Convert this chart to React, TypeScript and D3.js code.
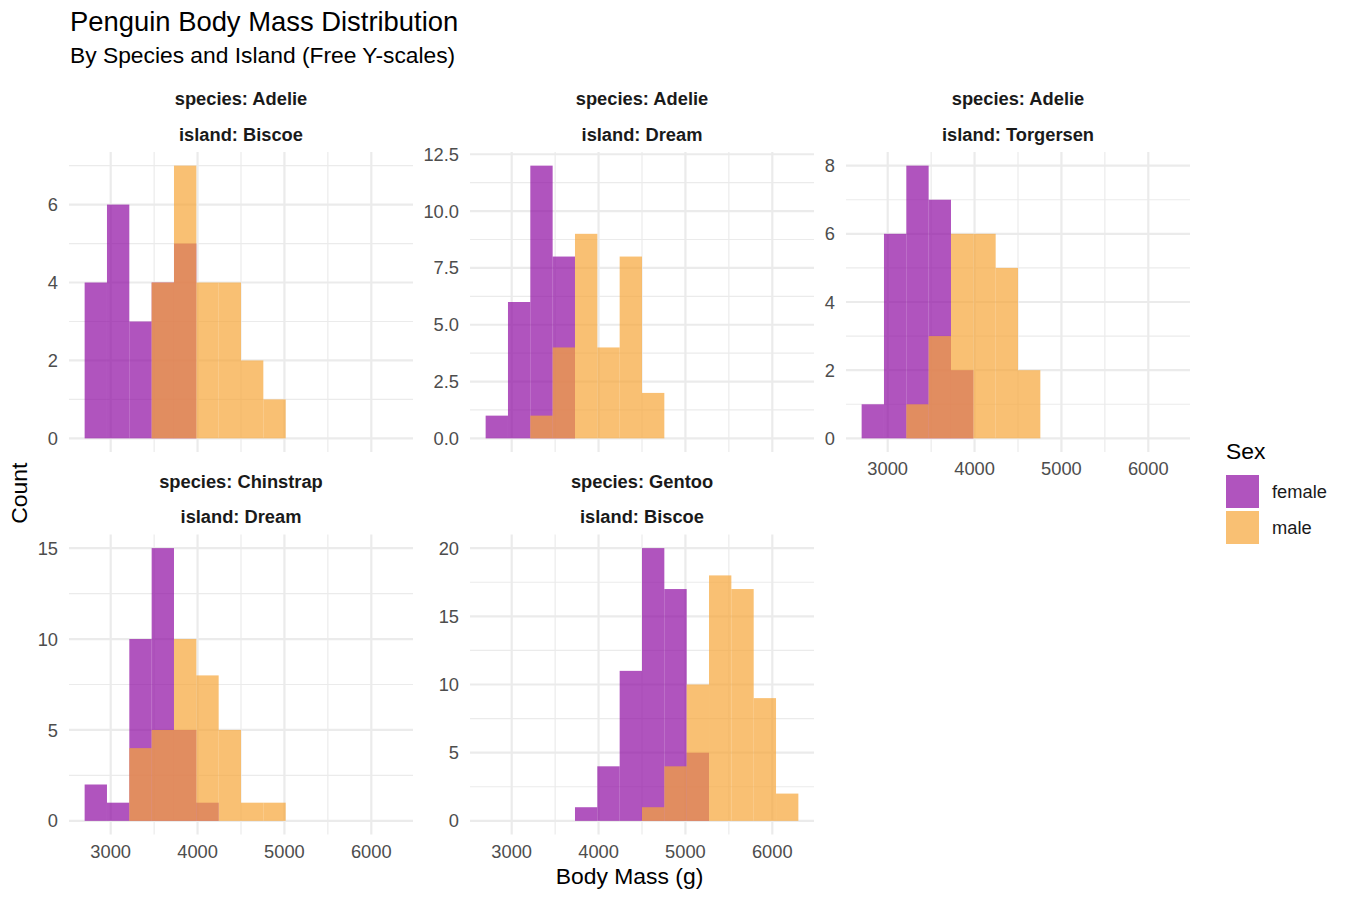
import { useRef, useEffect } from "react";
import * as d3 from "d3";

// bin edges of the histogram (14 bins between 2700 g and 6300 g)
const binEdges = [
  2700, 2957.14, 3214.29, 3471.43, 3728.57, 3985.71, 4242.86, 4500, 4757.14,
  5014.29, 5271.43, 5528.57, 5785.71, 6042.86, 6300,
];

const facetSpecies = ["Adelie", "Adelie", "Adelie", "Chinstrap", "Gentoo"];
const facetIslands = ["Biscoe", "Dream", "Torgersen", "Dream", "Biscoe"];

const femaleCounts = [
  [4, 6, 3, 4, 5, 0, 0, 0, 0, 0, 0, 0, 0, 0],
  [1, 6, 12, 8, 0, 0, 0, 0, 0, 0, 0, 0, 0, 0],
  [1, 6, 8, 7, 2, 0, 0, 0, 0, 0, 0, 0, 0, 0],
  [2, 1, 10, 15, 5, 1, 0, 0, 0, 0, 0, 0, 0, 0],
  [0, 0, 0, 0, 1, 4, 11, 20, 17, 5, 0, 0, 0, 0],
];
const maleCounts = [
  [0, 0, 0, 4, 7, 4, 4, 2, 1, 0, 0, 0, 0, 0],
  [0, 0, 1, 4, 9, 4, 8, 2, 0, 0, 0, 0, 0, 0],
  [0, 0, 1, 3, 6, 6, 5, 2, 0, 0, 0, 0, 0, 0],
  [0, 0, 4, 5, 10, 8, 5, 1, 1, 0, 0, 0, 0, 0],
  [0, 0, 0, 0, 0, 0, 0, 1, 4, 10, 18, 17, 9, 2],
];

const xTicks = [3000, 4000, 5000, 6000];
const xMinorTicks = [3500, 4500, 5500];
const yTicks = [
  [0, 2, 4, 6],
  [0, 2.5, 5, 7.5, 10, 12.5],
  [0, 2, 4, 6, 8],
  [0, 5, 10, 15],
  [0, 5, 10, 15, 20],
];
const yTickLabels = [
  ["0", "2", "4", "6"],
  ["0.0", "2.5", "5.0", "7.5", "10.0", "12.5"],
  ["0", "2", "4", "6", "8"],
  ["0", "5", "10", "15"],
  ["0", "5", "10", "15", "20"],
];
const yMinorTicks = [
  [1, 3, 5, 7],
  [1.25, 3.75, 6.25, 8.75, 11.25],
  [1, 3, 5, 7],
  [2.5, 7.5, 12.5],
  [2.5, 7.5, 12.5, 17.5],
];

const sexes = ["female", "male"];

const App = () => {
  const chartRef = useRef<SVGSVGElement | null>(null);

  useEffect(() => {
    if (chartRef.current === null) return;
    const svg = d3.select(chartRef.current);
    svg.selectAll("*").remove();

    const colors = ["#8E0CA2", "#F6A538"];
    const panelW = 344;
    const panelH = 300;
    // panel top-left corners, in facet order
    const panelPos = [
      { x: 69, y: 152 },
      { x: 470, y: 152 },
      { x: 846, y: 152 },
      { x: 69, y: 534.5 },
      { x: 470, y: 534.5 },
    ];
    const showXAxis = [false, false, true, true, true];

    const [lo, hi] = d3.extent(binEdges) as [number, number];
    const pad = (hi - lo) * 0.05;
    const x = d3.scaleLinear().domain([lo - pad, hi + pad]).range([0, panelW]);

    // title + subtitle
    svg
      .append("text")
      .attr("x", 70)
      .attr("y", 31)
      .attr("font-size", 27.4)
      .attr("fill", "#000")
      .text("Penguin Body Mass Distribution");
    svg
      .append("text")
      .attr("x", 70)
      .attr("y", 63)
      .attr("font-size", 22.8)
      .attr("fill", "#000")
      .text("By Species and Island (Free Y-scales)");

    facetSpecies.forEach((species, p) => {
      const pos = panelPos[p];
      const g = svg.append("g").attr("transform", `translate(${pos.x},${pos.y})`);
      const maxCount = d3.max([...femaleCounts[p], ...maleCounts[p]]) ?? 1;
      const y = d3
        .scaleLinear()
        .domain([-0.05 * maxCount, maxCount * 1.05])
        .range([panelH, 0]);

      // minor grid
      xMinorTicks.forEach((t) => {
        g.append("line")
          .attr("x1", x(t)).attr("x2", x(t))
          .attr("y1", 0).attr("y2", panelH)
          .attr("stroke", "#EBEBEB").attr("stroke-width", 1.2);
      });
      yMinorTicks[p].forEach((t) => {
        g.append("line")
          .attr("x1", 0).attr("x2", panelW)
          .attr("y1", y(t)).attr("y2", y(t))
          .attr("stroke", "#EBEBEB").attr("stroke-width", 1.2);
      });
      // major grid + y labels
      xTicks.forEach((t) => {
        g.append("line")
          .attr("x1", x(t)).attr("x2", x(t))
          .attr("y1", 0).attr("y2", panelH)
          .attr("stroke", "#EBEBEB").attr("stroke-width", 2.2);
      });
      yTicks[p].forEach((t, i) => {
        g.append("line")
          .attr("x1", 0).attr("x2", panelW)
          .attr("y1", y(t)).attr("y2", y(t))
          .attr("stroke", "#EBEBEB").attr("stroke-width", 2.2);
        g.append("text")
          .attr("x", -11)
          .attr("y", y(t))
          .attr("dy", "0.36em")
          .attr("text-anchor", "end")
          .attr("font-size", 18.3)
          .attr("fill", "#4D4D4D")
          .text(yTickLabels[p][i]);
      });

      // bars: female first, male on top
      [femaleCounts[p], maleCounts[p]].forEach((counts, s) => {
        g.selectAll(`.bar-${s}`)
          .data(counts.map((c, i) => ({ c, i })).filter((d) => d.c > 0))
          .enter()
          .append("rect")
          .attr("class", `bar-${s}`)
          .attr("x", (d) => x(binEdges[d.i]))
          .attr("width", (d) => x(binEdges[d.i + 1]) - x(binEdges[d.i]))
          .attr("y", (d) => y(d.c))
          .attr("height", (d) => y(0) - y(d.c))
          .attr("fill", colors[s])
          .attr("fill-opacity", 0.7);
      });

      if (showXAxis[p]) {
        xTicks.forEach((t) => {
          g.append("text")
            .attr("x", x(t))
            .attr("y", panelH + 23)
            .attr("text-anchor", "middle")
            .attr("font-size", 18.3)
            .attr("fill", "#4D4D4D")
            .text(String(t));
        });
      }

      // strip labels
      svg
        .append("text")
        .attr("x", pos.x + panelW / 2)
        .attr("y", pos.y - 47)
        .attr("text-anchor", "middle")
        .attr("font-size", 18.3)
        .attr("font-weight", "bold")
        .attr("fill", "#1A1A1A")
        .text(`species: ${species}`);
      svg
        .append("text")
        .attr("x", pos.x + panelW / 2)
        .attr("y", pos.y - 11.5)
        .attr("text-anchor", "middle")
        .attr("font-size", 18.3)
        .attr("font-weight", "bold")
        .attr("fill", "#1A1A1A")
        .text(`island: ${facetIslands[p]}`);
    });

    // axis titles
    svg
      .append("text")
      .attr("x", (69 + 1190) / 2)
      .attr("y", 884)
      .attr("text-anchor", "middle")
      .attr("font-size", 22.9)
      .attr("fill", "#000")
      .text("Body Mass (g)");
    svg
      .append("text")
      .attr("transform", `translate(27,${(152 + 834.5) / 2}) rotate(-90)`)
      .attr("text-anchor", "middle")
      .attr("font-size", 22.9)
      .attr("fill", "#000")
      .text("Count");

    // legend
    const legend = svg.append("g").attr("transform", "translate(1226,0)");
    legend
      .append("text")
      .attr("x", 0)
      .attr("y", 459)
      .attr("font-size", 22.9)
      .attr("fill", "#000")
      .text("Sex");
    sexes.forEach((s, i) => {
      legend
        .append("rect")
        .attr("x", 0)
        .attr("y", 475 + i * 36)
        .attr("width", 33)
        .attr("height", 33)
        .attr("fill", colors[i])
        .attr("fill-opacity", 0.7);
      legend
        .append("text")
        .attr("x", 46)
        .attr("y", 491.5 + i * 36)
        .attr("dy", "0.36em")
        .attr("font-size", 18.3)
        .attr("fill", "#1A1A1A")
        .text(s);
    });
  }, []);

  return (
    <div style={{ position: "fixed", left: 0, top: 0 }}>
      <svg
        ref={chartRef}
        width={1350}
        height={900}
        style={{ display: "block", background: "#fff", fontFamily: "'Liberation Sans', Arial, Helvetica, sans-serif" }}
      />
    </div>
  );
};

export default App;
